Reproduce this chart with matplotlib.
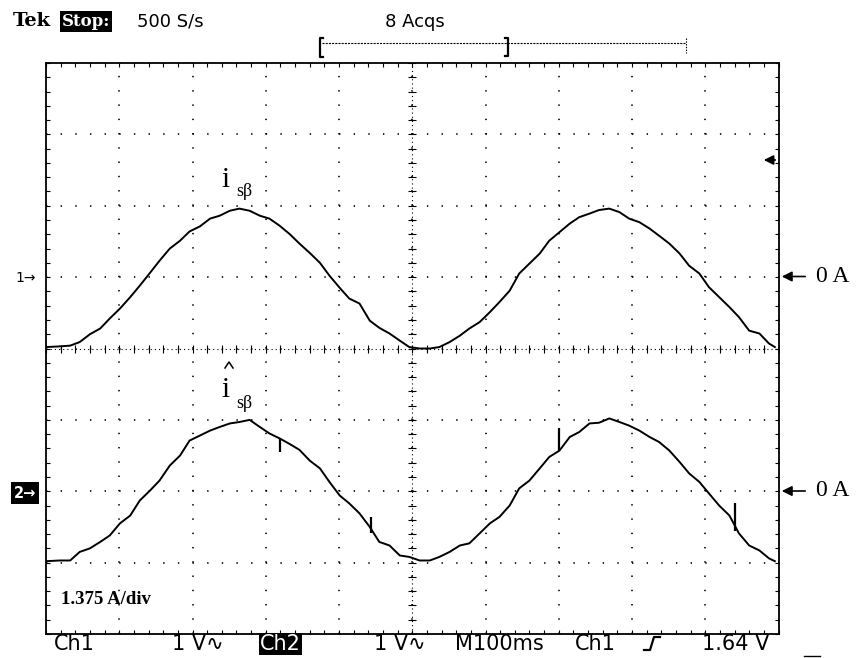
import numpy as np
import matplotlib.pyplot as plt

plt.rcParams['lines.scale_dashes'] = False

W, H = 860, 658

# sample times in ms (100 ms/div, 10 div across the screen)
t_ms = [0, 19, 33, 46, 60, 74, 87, 101, 115, 128, 142, 155, 169, 183, 196, 210,
        224, 237, 251, 264, 278, 292, 305, 319, 333, 346, 360, 374, 387, 401, 414,
        428, 442, 455, 469, 483, 496, 510, 524, 537, 551, 565, 578, 592, 606, 619,
        633, 646, 660, 674, 687, 701, 715, 728, 742, 755, 769, 783, 796, 810, 824,
        837, 851, 865, 878, 892, 905, 919, 933, 946, 960, 974, 987, 995]

# i_sbeta (measured), in divisions relative to the channel's 0 A marker
ch1 = [-0.98, -0.97, -0.96, -0.91, -0.80, -0.72, -0.58, -0.44, -0.28, -0.12,
       0.06, 0.23, 0.40, 0.51, 0.64, 0.71, 0.82, 0.86, 0.93, 0.96,
       0.93, 0.86, 0.82, 0.72, 0.60, 0.47, 0.34, 0.20, 0.02, -0.15,
       -0.30, -0.37, -0.61, -0.71, -0.79, -0.89, -0.98, -1.00, -1.00, -0.98,
       -0.91, -0.82, -0.72, -0.63, -0.49, -0.35, -0.19, 0.05, 0.19, 0.33,
       0.51, 0.63, 0.75, 0.84, 0.89, 0.94, 0.96, 0.91, 0.82, 0.77,
       0.68, 0.58, 0.47, 0.33, 0.16, 0.05, -0.14, -0.28, -0.42, -0.56,
       -0.75, -0.79, -0.93, -0.98]

# i_sbeta estimated (hat), same units
ch2 = [-0.98, -0.97, -0.97, -0.85, -0.80, -0.71, -0.62, -0.45, -0.34, -0.13,
       0.01, 0.15, 0.36, 0.50, 0.71, 0.78, 0.85, 0.90, 0.95, 0.97,
       1.00, 0.90, 0.81, 0.74, 0.66, 0.58, 0.43, 0.32, 0.13, -0.06,
       -0.17, -0.31, -0.50, -0.71, -0.76, -0.90, -0.92, -0.97, -0.97, -0.92,
       -0.85, -0.76, -0.73, -0.59, -0.45, -0.36, -0.20, 0.04, 0.15, 0.32,
       0.48, 0.57, 0.76, 0.83, 0.95, 0.96, 1.02, 0.97, 0.92, 0.85,
       0.76, 0.69, 0.57, 0.41, 0.25, 0.13, -0.03, -0.20, -0.34, -0.59,
       -0.76, -0.83, -0.94, -0.98]

# short glitches on channel 2
spike_ms = [320, 444, 701, 940]
spike_lo = [0.55, -0.59, 0.57, -0.55]
spike_hi = [0.74, -0.36, 0.88, -0.17]

ch1_pos = 1.0   # screen position of the ch1 ground marker (div)
ch2_pos = -2.0  # screen position of the ch2 ground marker (div)

fig = plt.figure(figsize=(W / 100, H / 100), dpi=100)
ax = fig.add_axes([46 / W, 1 - 634 / H, 732.5 / W, 571 / H])
ax.set_xlim(0, 10)
ax.set_ylim(-4, 4)

# graticule: dotted lines every division, dots every 1/5 div
div_x = 732.5 / 10 * 0.72  # points per div
div_y = 571 / 8 * 0.72
ax.set_xticks(np.arange(0, 11, 1))
ax.set_yticks(np.arange(-4, 5, 1))
ax.set_xticks(np.arange(0, 10.01, 0.2), minor=True)
ax.set_yticks(np.arange(-4, 4.01, 0.2), minor=True)
ax.xaxis.grid(True, color='k', lw=1.2, linestyle=(0, (1.0, div_y / 5 - 1.0)))
ax.yaxis.grid(True, color='k', lw=1.2, linestyle=(0, (1.0, div_x / 5 - 1.0)))
ax.tick_params(which='both', direction='in', length=3, width=0.8,
               top=True, right=True, labelbottom=False, labelleft=False)
for s in ax.spines.values():
    s.set_linewidth(1.3)

# centre crosshair with fine tick marks
ax.axvline(5, color='k', lw=0.8, linestyle=(0, (0.8, 2.2)))
ax.axhline(0, color='k', lw=0.8, linestyle=(0, (0.8, 2.2)))
yy = np.arange(-4, 4.01, 0.2)
xx = np.arange(0, 10.01, 0.2)
ax.plot(np.full_like(yy, 5), yy, ls='none', marker='_', ms=6, mew=0.8, color='k')
ax.plot(xx, np.zeros_like(xx), ls='none', marker='|', ms=6, mew=0.8, color='k')

t_div = np.array(t_ms) / 100
ax.plot(t_div, np.array(ch1) + ch1_pos, color='k', lw=1.4)
ax.plot(t_div, np.array(ch2) + ch2_pos, color='k', lw=1.4)
ax.vlines(np.array(spike_ms) / 100, np.array(spike_lo) + ch2_pos,
          np.array(spike_hi) + ch2_pos, color='k', lw=1.6)


def fx(x):
    return x / W


def fy(y):
    return 1 - y / H


sans = 'DejaVu Sans'
serif = 'Liberation Serif'

# top status line
fig.text(fx(13), fy(21), 'Tek', family='DejaVu Serif', weight='bold', size=14, va='center')
fig.text(fx(62), fy(21), 'Stop:', family='DejaVu Serif', weight='bold', size=12,
         va='center', color='white', bbox=dict(fc='black', ec='none', pad=1.5))
fig.text(fx(137), fy(22), '500 S/s', family=sans, size=13, va='center')
fig.text(fx(385), fy(22), '8 Acqs', family=sans, size=13, va='center')

# record-length bar with brackets
fig.add_artist(plt.Line2D([fx(322), fx(685)], [fy(43), fy(43)], color='k', lw=0.8,
                          linestyle=(0, (1.5, 0.8))))
fig.add_artist(plt.Line2D([fx(323), fx(320), fx(320), fx(323)],
                          [fy(38), fy(38), fy(57), fy(57)], color='k', lw=1.6))
fig.add_artist(plt.Line2D([fx(505), fx(508), fx(508), fx(505)],
                          [fy(38), fy(38), fy(56), fy(56)], color='k', lw=1.6))
fig.add_artist(plt.Line2D([fx(686), fx(686)], [fy(38), fy(53)], color='k', lw=0.8,
                          linestyle=(0, (1, 1))))

# channel markers on the left
fig.text(fx(15), fy(278), '1\u2192', family=sans, size=10, va='center')
fig.text(fx(14), fy(493), '2\u2192', family=sans, size=10.5, va='center', weight='bold',
         color='white', bbox=dict(fc='black', ec='none', pad=2.2))

# right side arrows and labels
arrow = dict(arrowstyle='-|>', color='k', lw=1.2, mutation_scale=15)
ax.annotate('', xy=(761, H - 160), xytext=(778, H - 160), xycoords='figure pixels',
            arrowprops=dict(arrowstyle='-|>', color='k', lw=1.3, mutation_scale=14),
            annotation_clip=False)
for yp in (276.5, 491):
    ax.annotate('', xy=(779, H - yp), xytext=(808, H - yp), xycoords='figure pixels',
                arrowprops=arrow, annotation_clip=False)
    fig.text(fx(816), fy(yp), '0 A', family=serif, size=17, va='center')

# trace labels
fig.text(fx(221), fy(180), 'i', family=serif, size=21, va='center')
fig.text(fx(236), fy(192), 's\u03b2', family=serif, size=13, va='center')
fig.text(fx(221), fy(390), 'i', family=serif, size=21, va='center')
fig.add_artist(plt.Line2D([fx(225), fx(229), fx(233)], [fy(368), fy(362), fy(368)],
                          color='k', lw=1.1))
fig.text(fx(236), fy(403), 's\u03b2', family=serif, size=13, va='center')

fig.text(fx(61), fy(599), '1.375 A/div', family=serif, weight='bold', size=13.5, va='center')

# bottom status line
by = fy(644)
fig.text(fx(54), by, 'Ch1', family=sans, size=15, va='center')
fig.text(fx(172), by, '1 V\u223f', family=sans, size=15, va='center')
fig.text(fx(260), by, 'Ch2', family=sans, size=15, va='center', color='white',
         bbox=dict(fc='black', ec='none', pad=0.8))
fig.text(fx(374), by, '1 V\u223f', family=sans, size=15, va='center')
fig.text(fx(455), by, 'M100ms', family=sans, size=15, va='center')
fig.text(fx(575), by, 'Ch1', family=sans, size=15, va='center')
fig.add_artist(plt.Line2D([fx(644), fx(650), fx(654), fx(660)],
                          [fy(650), fy(650), fy(637), fy(637)], color='k', lw=1.6))
fig.text(fx(702), by, '1.64 V', family=sans, size=15, va='center')
fig.add_artist(plt.Line2D([fx(804), fx(820)], [fy(656), fy(656)], color='k', lw=1.0))

fig.savefig('out.png', dpi=100)
